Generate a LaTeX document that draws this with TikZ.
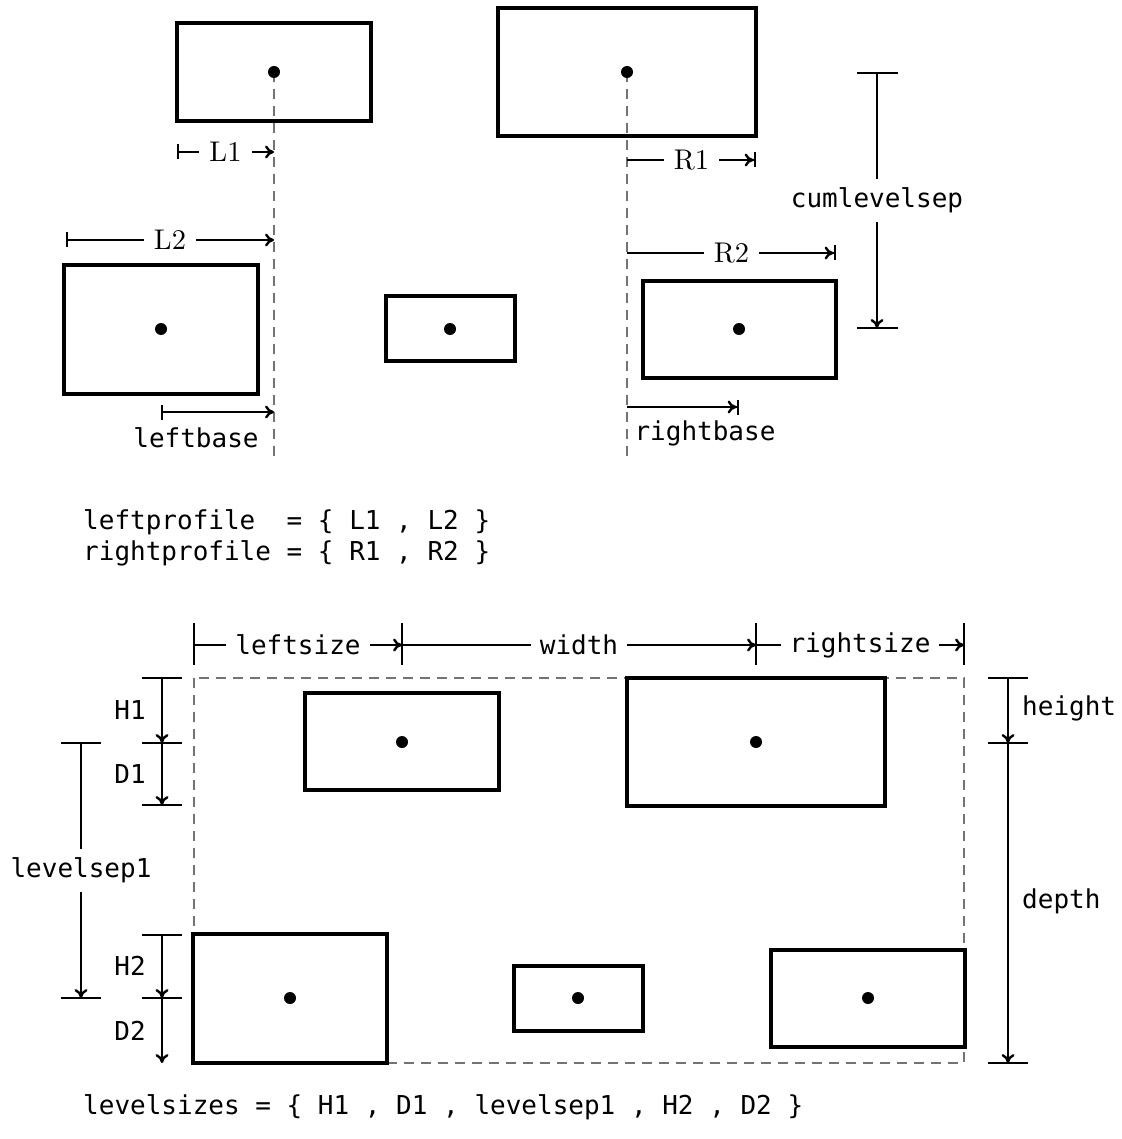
\documentclass[tikz,border=0pt]{standalone}
\usepackage{fontspec}
\setmonofont{DejaVu Sans Mono}
\usetikzlibrary{arrows.meta}
\newcommand{\mysz}{\fontsize{26}{31}\selectfont}
\newcommand{\myser}{\fontsize{10}{12}\selectfont}
\begin{document}
\begin{tikzpicture}[x=1pt,y=-1pt,
  boxn/.style={draw, line width=3.1pt, inner sep=0pt},
  dot/.style={circle, fill, inner sep=0pt, minimum size=12pt},
  guide/.style={draw=black!55, line width=1.5pt, dash pattern=on 10pt off 7pt},
  dim/.style={line width=2.4pt},
  myto/.tip={To[length=9pt,width=13pt]},
  mybar/.tip={Bar[width=15pt]},
  mytobar/.tip={To[length=9pt,width=13pt] Bar[width=15pt]},
  slab/.style={fill=white, inner xsep=3.6pt, inner ysep=1pt, font=\myser, scale=2.85},
  mlab/.style={fill=white, inner xsep=9pt, inner ysep=2pt, font=\mysz\ttfamily},
  txt/.style={inner sep=0pt, font=\mysz\ttfamily}]
\useasboundingbox (0,0) rectangle (1121,1139);

% ---------- top part ----------
\coordinate (Aend) at (274,458);
\coordinate (Bend) at (627,458);
\coordinate (Atop) at (274,72);
\coordinate (Btop) at (627,72);
\draw[guide] (Atop) -- (Aend);
\draw[guide] (Btop) -- (Bend);

\node[boxn, minimum width=194pt, minimum height=98pt] (A) at (274,72) {};
\node[boxn, minimum width=258pt, minimum height=128pt] (B) at (627,72) {};
\node[boxn, minimum width=194pt, minimum height=129pt] (C) at (161,329.5) {};
\node[boxn, minimum width=129pt, minimum height=65pt] (D) at (450.5,328.5) {};
\node[boxn, minimum width=193pt, minimum height=97pt] (E) at (739.5,329.5) {};
\node[dot] (a) at (274,72) {};
\node[dot] (b) at (627,72) {};
\node[dot] (c) at (161,329) {};
\node[dot] (d) at (450,329) {};
\node[dot] (e) at (739,329) {};

\coordinate (L1s) at (177,152); \coordinate (L1e) at (274,152);
\draw[dim, mybar-myto] (L1s) -- (L1e) node[midway, slab] (L1lab) {L1};
\coordinate (L2s) at (66,240); \coordinate (L2e) at (274,240);
\draw[dim, mybar-myto] (L2s) -- (L2e) node[midway, slab] (L2lab) {L2};
\coordinate (R1s) at (627,160); \coordinate (R1e) at (756,160);
\draw[dim, -mytobar] (R1s) -- (R1e) node[midway, slab] (R1lab) {R1};
\coordinate (R2s) at (627,253); \coordinate (R2e) at (836,253);
\draw[dim, -mytobar] (R2s) -- (R2e) node[midway, slab] (R2lab) {R2};

\coordinate (lbs) at (161,412); \coordinate (lbe) at (274,412);
\draw[dim, mybar-myto] (lbs) -- (lbe);
\node[txt] (lblab) at (196,438) {leftbase};
\coordinate (rbs) at (627,407); \coordinate (rbe) at (739,407);
\draw[dim, -mytobar] (rbs) -- (rbe);
\node[txt] (rblab) at (705,433) {rightbase};

\coordinate (c1) at (857,73); \coordinate (c2) at (898,73);
\coordinate (c3) at (857,328); \coordinate (c4) at (898,328);
\coordinate (ct) at (877,73); \coordinate (cb) at (877,328);
\draw[dim] (c1) -- (c2);
\draw[dim] (c3) -- (c4);
\draw[dim, -myto] (ct) -- (cb) node[midway, mlab, inner xsep=2pt, inner ysep=9pt] (cumlab) {cumlevelsep};

\node[txt, anchor=base west] (lp) at (83,529) {leftprofile\ \ = \{ L1 , L2 \}};
\node[txt, anchor=base west] (rp) at (83,560) {rightprofile = \{ R1 , R2 \}};

% ---------- bottom part ----------
\coordinate (DRa) at (194,678); \coordinate (DRb) at (964,1063);
\draw[guide] (DRa) rectangle (DRb);

\node[boxn, minimum width=194pt, minimum height=97pt] (F) at (402,741.5) {};
\node[boxn, minimum width=258pt, minimum height=128pt] (G) at (756,742) {};
\node[boxn, minimum width=194pt, minimum height=129pt] (H) at (290,998.5) {};
\node[boxn, minimum width=129pt, minimum height=65pt] (I) at (578.5,998.5) {};
\node[boxn, minimum width=194pt, minimum height=97pt] (J) at (868,998.5) {};
\node[dot] (f) at (402,742) {};
\node[dot] (g) at (756,742) {};
\node[dot] (h) at (290,998) {};
\node[dot] (i) at (578,998) {};
\node[dot] (j) at (868,998) {};

% top width dims
\foreach \xx/\nm in {194/t1, 402/t2, 756/t3, 964/t4} {
  \coordinate (\nm u) at (\xx,623); \coordinate (\nm d) at (\xx,665);
  \coordinate (\nm) at (\xx,645);
  \draw[dim] (\nm u) -- (\nm d);
}
\draw[dim, -myto] (t1) -- (t2) node[midway, mlab] (lslab) {leftsize};
\draw[dim, -myto] (t2) -- (t3) node[midway, mlab] (wlab) {width};
\draw[dim, -myto] (t3) -- (t4) node[midway, mlab] (rslab) {rightsize};

% left height dims
\foreach \yy/\nm in {678/h1, 743/h2, 805/h3, 935/h4, 998/h5} {
  \coordinate (\nm l) at (142,\yy); \coordinate (\nm r) at (182,\yy);
  \coordinate (\nm) at (162,\yy);
  \draw[dim] (\nm l) -- (\nm r);
}
\coordinate (h6) at (162,1063);
\draw[dim, -myto] (h1) -- (h2);
\draw[dim, -myto] (h2) -- (h3);
\draw[dim, -myto] (h4) -- (h5);
\draw[dim, -myto] (h5) -- (h6);
\node[txt] (H1lab) at (130,710) {H1};
\node[txt] (D1lab) at (130,774) {D1};
\node[txt] (H2lab) at (130,966) {H2};
\node[txt] (D2lab) at (130,1031) {D2};

\coordinate (s1l) at (61,743); \coordinate (s1r) at (101,743);
\coordinate (s2l) at (61,998); \coordinate (s2r) at (101,998);
\coordinate (s1) at (81,743); \coordinate (s2) at (81,998);
\draw[dim] (s1l) -- (s1r);
\draw[dim] (s2l) -- (s2r);
\draw[dim, -myto] (s1) -- (s2) node[midway, mlab, inner xsep=2pt, inner ysep=9pt] (lslab1) {levelsep1};

% right height dims
\foreach \yy/\nm in {678/r1, 743/r2, 1063/r3} {
  \coordinate (\nm l) at (988,\yy); \coordinate (\nm r) at (1028,\yy);
  \coordinate (\nm) at (1008,\yy);
  \draw[dim] (\nm l) -- (\nm r);
}
\draw[dim, -myto] (r1) -- (r2);
\draw[dim, -myto] (r2) -- (r3);
\node[txt, anchor=west] (hlab) at (1022,708) {height};
\node[txt, anchor=west] (dlab) at (1022,901) {depth};

\node[txt, anchor=base west] (ls) at (83,1114) {levelsizes = \{ H1 , D1 , levelsep1 , H2 , D2 \}};
\end{tikzpicture}
\end{document}
